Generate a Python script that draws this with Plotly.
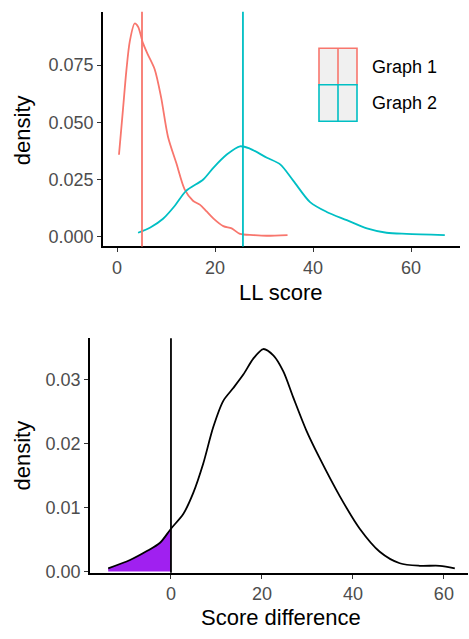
import plotly.graph_objects as go

# ---- data: top panel (LL score densities) ----
g1_x = [0.4, 1.2, 1.9, 2.6, 3.6, 4.3, 5.3, 6.3, 7.7, 9.0, 10.4, 12.1, 13.8, 15.5, 16.9, 18.3, 19.7, 21.7, 23.4, 25.1, 27.8, 30.5, 34.8]
g1_y = [0.0358, 0.0552, 0.0724, 0.0853, 0.0932, 0.0918, 0.0846, 0.0796, 0.0731, 0.0609, 0.0437, 0.0322, 0.0207, 0.0157, 0.0140, 0.0110, 0.0079, 0.0046, 0.0036, 0.0012, 0.0007, 0.0004, 0.0007]
g2_x = [4.3, 6.8, 9.4, 11.8, 14.1, 17.6, 19.7, 22.4, 25.1, 27.1, 30.6, 33.3, 36.0, 39.4, 42.8, 46.9, 51.0, 55.0, 59.1, 66.9]
g2_y = [0.0017, 0.0040, 0.0078, 0.0135, 0.0200, 0.0250, 0.0302, 0.0359, 0.0395, 0.0385, 0.0345, 0.0316, 0.0244, 0.0151, 0.0108, 0.0072, 0.0036, 0.0017, 0.0012, 0.0007]
g1_mean = 5.1
g2_mean = 25.7
series_names = ["Graph 1", "Graph 2"]
series_colors = ["#F8766D", "#00BFC4"]

# ---- data: bottom panel (score difference density) ----
d_x = [-13.8, -9.0, -5.3, -2.4, 0.0, 2.7, 4.9, 7.1, 9.3, 11.5, 13.7, 15.9, 18.1, 20.3, 22.5, 24.7, 26.9, 29.8, 32.5, 37.1, 41.5, 45.9, 50.3, 54.7, 59.1, 62.4]
d_y = [0.0005, 0.0018, 0.0032, 0.0045, 0.0067, 0.0090, 0.0123, 0.0169, 0.0226, 0.0267, 0.0287, 0.0308, 0.0333, 0.0348, 0.0338, 0.0313, 0.0272, 0.0220, 0.0180, 0.0118, 0.0067, 0.0031, 0.0013, 0.0009, 0.0009, 0.0005]
d_ref = 0.0

top_xticks = [0, 20, 40, 60]
top_yticks = [0.0, 0.025, 0.05, 0.075]
top_ytext = ["0.000", "0.025", "0.050", "0.075"]
bot_xticks = [0, 20, 40, 60]
bot_yticks = [0.0, 0.01, 0.02, 0.03]
bot_ytext = ["0.00", "0.01", "0.02", "0.03"]

W, H = 469, 639
FONT = "Liberation Sans, Arial, sans-serif"
TICKC = "#4D4D4D"
SPL = dict(shape="spline", smoothing=0.8)

fig = go.Figure()

# top panel curves
fig.add_trace(go.Scatter(x=g1_x, y=g1_y, mode="lines", line=dict(color=series_colors[0], width=1.8, **SPL),
                         xaxis="x", yaxis="y", showlegend=False))
fig.add_trace(go.Scatter(x=g2_x, y=g2_y, mode="lines", line=dict(color=series_colors[1], width=1.8, **SPL),
                         xaxis="x", yaxis="y", showlegend=False))

# bottom panel: shaded area left of reference
fx = [x for x in d_x if x <= d_ref]
fy = [y for x, y in zip(d_x, d_y) if x <= d_ref]
fig.add_trace(go.Scatter(x=fx, y=fy, mode="lines", fill="tozeroy",
                         fillcolor="#A020F0", line=dict(width=0, color="#A020F0", **SPL),
                         xaxis="x2", yaxis="y2", showlegend=False))
fig.add_trace(go.Scatter(x=d_x, y=d_y, mode="lines", line=dict(color="black", width=1.8, **SPL),
                         xaxis="x2", yaxis="y2", showlegend=False))

# vertical reference lines
fig.add_shape(type="line", xref="x", yref="y domain", x0=g1_mean, x1=g1_mean, y0=0, y1=1,
              line=dict(color=series_colors[0], width=1.8))
fig.add_shape(type="line", xref="x", yref="y domain", x0=g2_mean, x1=g2_mean, y0=0, y1=1,
              line=dict(color=series_colors[1], width=1.8))
fig.add_shape(type="line", xref="x2", yref="y2 domain", x0=d_ref, x1=d_ref, y0=0, y1=1,
              line=dict(color="black", width=1.8))

def px_x(p):
    return p / W

def px_y(p):
    return 1 - p / H

axis_common = dict(showline=True, linecolor="black", linewidth=1.6, ticks="outside", ticklen=4,
                   tickcolor="#333333", tickwidth=1.2, showgrid=False, zeroline=False,
                   tickfont=dict(family=FONT, size=18, color=TICKC))

fig.update_layout(
    width=W, height=H, margin=dict(l=0, r=0, t=0, b=0),
    paper_bgcolor="white", plot_bgcolor="white",
    xaxis=dict(domain=[px_x(103), px_x(460)], range=[-2.86, 70.0], tickvals=top_xticks,
               anchor="y", **axis_common),
    yaxis=dict(domain=[px_y(250), px_y(12)], range=[-0.0043, 0.0983], tickvals=top_yticks,
               ticktext=top_ytext, anchor="x", **axis_common),
    xaxis2=dict(domain=[px_x(90), px_x(468)], range=[-17.8, 65.3], tickvals=bot_xticks,
                anchor="y2", **axis_common),
    yaxis2=dict(domain=[px_y(581), px_y(343)], range=[-0.0002, 0.0365], tickvals=bot_yticks,
                ticktext=bot_ytext, anchor="x2", **axis_common),
)

# axis titles
titles = [
    ("LL score", 281, 297, 0),
    ("density", 22, 132, -90),
    ("Score difference", 281, 626, 0),
    ("density", 22, 462, -90),
]
for text, x, y, ang in titles:
    fig.add_annotation(text=text, x=px_x(x), y=px_y(y), xref="paper", yref="paper", showarrow=False,
                       textangle=ang, xanchor="center", yanchor="middle",
                       font=dict(family=FONT, size=22, color="black"))

# legend keys
key_l, key_r = 319, 357
key_tops = [49, 86]
key_h = 37
for name, col, top in zip(series_names, series_colors, key_tops):
    fig.add_shape(type="rect", xref="paper", yref="paper", x0=px_x(key_l), x1=px_x(key_r),
                  y0=px_y(top + key_h), y1=px_y(top), fillcolor="#F0F0F0", line=dict(color=col, width=1.6))
    mid = (key_l + key_r) / 2
    fig.add_shape(type="line", xref="paper", yref="paper", x0=px_x(mid), x1=px_x(mid),
                  y0=px_y(top + key_h), y1=px_y(top), line=dict(color=col, width=1.6))
    fig.add_annotation(text=name, x=px_x(370), y=px_y(top + key_h / 2), xref="paper", yref="paper",
                       showarrow=False, xanchor="left", yanchor="middle",
                       font=dict(family=FONT, size=18, color="black"))

fig.write_html("out.html")
